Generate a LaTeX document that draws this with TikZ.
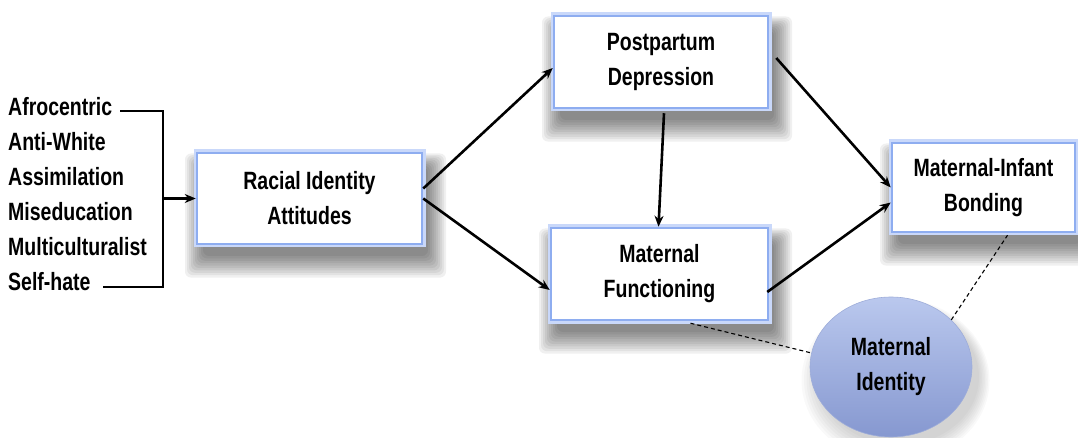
\documentclass[tikz,border=0pt]{standalone}
\usepackage{fontspec}
\setmainfont{Liberation Sans}
\newfontfamily\lab[FakeStretch=0.78]{Liberation Sans}
\usetikzlibrary{arrows.meta,shapes.geometric,calc}
\definecolor{boxblue}{HTML}{8EADF0}
\definecolor{glowblue}{HTML}{C9D8FA}
\definecolor{elltop}{HTML}{BAC8EE}
\definecolor{ellbot}{HTML}{8698D0}
\newcommand\boxshadow[4]{%
  \foreach \k in {0,...,9}{%
    \fill[black,opacity=0.06,rounded corners=6pt] ({#1+6-\k*2},{#2+14-\k*1.5}) rectangle ({#3+6+\k*2},{#4+12+\k*2.4});}}
\begin{document}
\begin{tikzpicture}[x=1pt,y=-1pt,
  txt/.style={font=\lab\bfseries\fontsize{25}{35}\selectfont},
  box/.style={txt,rectangle,draw=boxblue,line width=2.5pt,fill=white,align=center,inner sep=0pt,
    preaction={draw=glowblue,line width=7pt}},
  conn/.style={line width=2.6pt,black},
  arr/.style={conn,-{Stealth[length=11pt,width=9pt]}},
  dashline/.style={black,line width=1.1pt,dash pattern=on 4pt off 3pt}]
\useasboundingbox (0,0) rectangle (1078,438);
% shadows
\boxshadow{197}{153}{422}{244}
\boxshadow{554}{16}{768}{108}
\boxshadow{551}{228}{768}{320}
\boxshadow{892}{143}{1075}{232}
\foreach \k in {0,...,7}{\fill[black,opacity=0.025] ({899-\k*0.5},{377+\k*0.5}) ellipse ({80+\k*2} and {68+\k*2});}
% list
\node[txt,align=left,anchor=west,inner sep=0pt] (list) at (8,194) {Afrocentric\\Anti-White\\Assimilation\\Miseducation\\Multiculturalist\\Self-hate};
% boxes
\node[box,minimum width=225pt,minimum height=91pt] (ria) at (309.5,198.5) {Racial Identity\\Attitudes};
\node[box,minimum width=214pt,minimum height=92pt] (pp) at (661,62) {Postpartum\\Depression};
\node[box,minimum width=217pt,minimum height=92pt] (mf) at (659.5,274) {Maternal\\Functioning};
\node[box,minimum width=183pt,minimum height=89pt] (mib) at (983.5,187.5) {Maternal-Infant\\Bonding};
\node[ellipse,txt,align=center,minimum width=162pt,minimum height=140pt,inner sep=0pt,
  top color=elltop,bottom color=ellbot,draw=ellbot!80,line width=0.6pt] (mi) at (891,367) {Maternal\\Identity};
% bracket
\coordinate (b1) at (120,111);
\coordinate (b2) at (163,111);
\coordinate (b3) at (163,287);
\coordinate (b4) at (103,287);
\coordinate (bm) at (163,198.5);
\draw[conn,line width=2.4pt] (b1) -- (b2) -- (b3) -- (b4);
\draw[arr] (bm) -- (ria.west);
% arrows
\draw[arr] ([yshift=10pt]ria.east) -- ([yshift=-6pt]pp.west);
\draw[arr] ([yshift=0pt]ria.east) -- ([yshift=-16pt]mf.west);
\draw[arr] ([xshift=3pt,yshift=-4pt]pp.south) -- ([xshift=-1pt]mf.north);
\draw[arr] ([xshift=7pt,yshift=4pt]pp.east) -- (mib.west);
\draw[arr] ([xshift=-2pt,yshift=-18pt]mf.east) -- ([yshift=-15pt]mib.west);
% dashed
\draw[dashline] ([xshift=31pt,yshift=-2pt]mf.south) -- (mi.170);
\draw[dashline] (mi.38) -- ([xshift=24pt,yshift=-2pt]mib.south);
\end{tikzpicture}
\end{document}
